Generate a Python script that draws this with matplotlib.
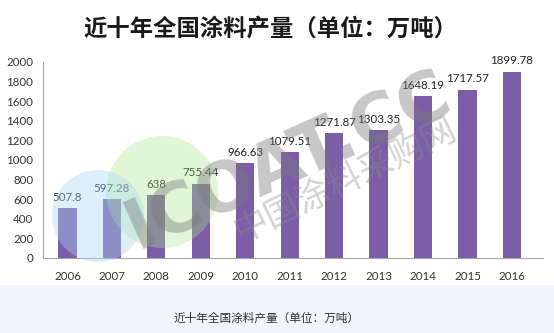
import matplotlib.pyplot as plt
from matplotlib.patches import Ellipse, Rectangle

years = ['2006', '2007', '2008', '2009', '2010', '2011', '2012', '2013', '2014', '2015', '2016']
output = [507.8, 597.28, 638, 755.44, 966.63, 1079.51, 1271.87, 1303.35, 1648.19, 1717.57, 1899.78]
value_labels = ['507.8', '597.28', '638', '755.44', '966.63', '1079.51', '1271.87', '1303.35',
                '1648.19', '1717.57', '1899.78']
yticks = [0, 200, 400, 600, 800, 1000, 1200, 1400, 1600, 1800, 2000]

title = '近十年全国涂料产量（单位：万吨）'

W, H = 554, 333
plt.rcParams['font.family'] = ['Lato', 'Noto Sans CJK SC', 'DejaVu Sans']

fig = plt.figure(figsize=(W / 100, H / 100), dpi=100)
fig.patch.set_facecolor('white')

# light strip with caption at the bottom
fig.patches.append(Rectangle((0, 0), 1, 48 / H, transform=fig.transFigure,
                             facecolor='#f2f5f9', edgecolor='none', zorder=0))
fig.text(267 / W, 15 / H, title, ha='center', va='center', fontsize=8.4,
         color='#333333', family=['Noto Sans CJK SC', 'DejaVu Sans'])

fig.text(270 / W, 1 - 28 / H, title, ha='center', va='center', fontsize=16.8,
         fontweight='bold', color='#1a1a1a', family=['Noto Sans CJK SC', 'DejaVu Sans'])

ax = fig.add_axes([43 / W, 75 / H, 500 / W, 196 / H])
x = range(len(years))
bars = ax.bar(x, output, width=0.41, color='#7b5ea7', zorder=2)

for i, b in enumerate(bars):
    ax.annotate(value_labels[i], (b.get_x() + b.get_width() / 2, b.get_height()),
                xytext=(0, 4), textcoords='offset points', ha='center', va='bottom',
                fontsize=8.3, color='#222222')

ax.set_xlim(-0.55, 10.7)
ax.set_ylim(0, 2000)
ax.set_yticks(yticks)
ax.set_xticks(list(x))
ax.set_xticklabels(years)
ax.tick_params(axis='both', length=0, labelsize=8.3, colors='#333333')
ax.tick_params(axis='y', pad=7)
ax.tick_params(axis='x', pad=9)
for side in ['top', 'right']:
    ax.spines[side].set_visible(False)
ax.spines['left'].set_color('#a6a6a6')
ax.spines['bottom'].set_color('#a6a6a6')
ax.set_facecolor('none')


def circle(cx, cy, r, color, alpha, z):
    # round in pixels, placed in figure coordinates
    fig.patches.append(Ellipse((cx / W, 1 - cy / H), 2 * r / W, 2 * r / H,
                               transform=fig.transFigure, facecolor=color,
                               edgecolor='none', alpha=alpha, zorder=z))


# site watermark drawn over the bars
circle(162, 192, 56, '#a8e68a', 0.35, 5)
circle(98, 216, 46, '#a9d8f5', 0.4, 6)
fig.text(288 / W, 1 - 160 / H, 'ICOAT.CC', ha='center', va='center', fontsize=50,
         fontweight='bold', rotation=24, color='#7a7a7a', alpha=0.42, zorder=7,
         family=['DejaVu Sans'])
fig.text(345 / W, 1 - 180 / H, '中国涂料采购网', ha='center', va='center', fontsize=25,
         rotation=26, color='#8a8a8a', alpha=0.38, zorder=7,
         family=['Noto Sans CJK SC'])

fig.savefig('out.png', dpi=100)
